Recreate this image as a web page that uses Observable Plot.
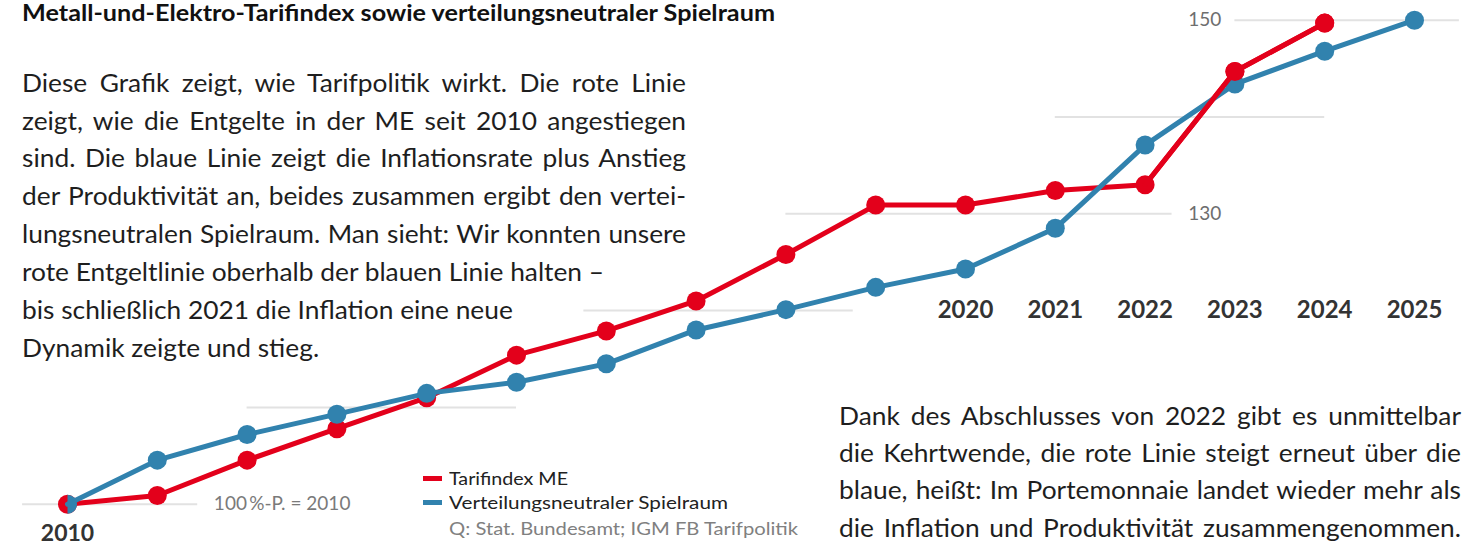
<!DOCTYPE html>
<html><head><meta charset="utf-8">
<script src="https://cdn.jsdelivr.net/npm/d3@7"></script>
<script src="https://cdn.jsdelivr.net/npm/@observablehq/plot@0.6"></script>
<style>
html,body{margin:0;padding:0;background:#fff}
#wrap{position:relative;width:1468px;height:546px;overflow:hidden;font-family:Lato,sans-serif;background:#fff}
#wrap svg{position:absolute;left:0;top:0}
.t{position:absolute;white-space:pre;transform-origin:0 0;line-height:1;margin:0;padding:0}
</style></head><body><div id="wrap"></div>
<script>
// ---- data ----
const years = [2010,2011,2012,2013,2014,2015,2016,2017,2018,2019,2020,2021,2022,2023,2024,2025];
const tarifindex = [100,100.9,104.55,107.8,111.0,115.4,117.9,121.0,125.8,130.9,130.9,132.4,133.0,144.7,149.7];
const spielraum  = [100,104.55,107.2,109.3,111.45,112.6,114.5,118.0,120.1,122.4,124.3,128.5,137.1,143.4,146.8,150.0];
const gridValues = [100,110,120,130,140,150];
const gridFrom   = [2009.5,2012,2015.75,2018,2021,2023];
const gridTo     = [2011.45,2015,2018.75,2022.3,2024,2025.5];
const axisYears  = [2020,2021,2022,2023,2024,2025];
const firstYear  = [2010];
const yTicks     = [130,150];
const RED = "#e3001b", BLUE = "#3182ae";

const red = tarifindex.map((value,i)=>({year:years[i], value}));
const blue = spielraum.map((value,i)=>({year:years[i], value}));
const grid = gridValues.map((v,i)=>({v, x1:gridFrom[i], x2:gridTo[i]}));

const halfRight = {draw(ctx, size){const r=Math.sqrt(size/Math.PI); ctx.moveTo(0,-r); ctx.arc(0,0,r,-Math.PI/2,Math.PI/2); ctx.closePath();}};

const chart = Plot.plot({
  width:1468, height:546,
  marginLeft:67, marginRight:54, marginTop:19.7, marginBottom:42.3,
  x:{domain:[2010,2025], axis:null},
  y:{domain:[100,150], axis:null},
  style:{fontFamily:"Lato, sans-serif", background:"transparent", overflow:"visible"},
  marks:[
    Plot.ruleY(grid, {y:"v", x1:"x1", x2:"x2", stroke:"#e2e2e2", strokeWidth:2}),
    Plot.line(red, {x:"year", y:"value", stroke:RED, strokeWidth:5}),
    Plot.dot(red, {x:"year", y:"value", r:9.5, fill:RED}),
    Plot.line(blue, {x:"year", y:"value", stroke:BLUE, strokeWidth:5}),
    Plot.dot(blue.filter(d=>d.year>2010), {x:"year", y:"value", r:9.5, fill:BLUE}),
    Plot.dot(blue.filter(d=>d.year===2010), {x:"year", y:"value", r:9.5, fill:BLUE, symbol:halfRight}),
    Plot.line(red.filter(d=>d.year>=2022), {x:"year", y:"value", stroke:RED, strokeWidth:5}),
    Plot.dot(red.filter(d=>d.year>=2023), {x:"year", y:"value", r:9.5, fill:RED}),
    Plot.text(axisYears, {x:d=>d, y:120, text:d=>String(d), fontSize:24, fontWeight:"bold", fill:"#333"}),
    Plot.text(firstYear, {x:d=>d, y:100, dy:29.5, text:d=>String(d), fontSize:23, fontWeight:"bold", fill:"#333"}),
    Plot.text(yTicks, {x:2022.48, y:d=>d, text:d=>String(d), textAnchor:"start", fontSize:19, fill:"#6e6e6e"}),
    Plot.text(["100\u2009%-P. = 2010"], {x:2011.63, y:100, text:d=>d, textAnchor:"start", fontSize:19, fill:"#7a7a7a"})
  ]
});
const wrap = document.getElementById("wrap");
wrap.appendChild(chart);

// ---- text overlays ----
function mk(text, x, baseline, fs, weight, color){
  const s = document.createElement("span");
  s.className = "t";
  s.style.fontSize = fs+"px"; s.style.fontWeight = weight; s.style.color = color;
  s.style.left = x+"px"; s.style.top = "0px";
  const mark = document.createElement("i");
  mark.style.cssText = "display:inline-block;width:0;height:0;vertical-align:baseline";
  s.appendChild(mark);
  s.appendChild(document.createTextNode(text));
  wrap.appendChild(s);
  const off = mark.getBoundingClientRect().top - s.getBoundingClientRect().top;
  s.style.top = (baseline - off)+"px";
  s._w = s.getBoundingClientRect().width;
  s._n = (text.match(/ /g)||[]).length;
  return s;
}
function justify(s, target, k){
  const extra = (target/k - s._w)/Math.max(1,s._n);
  s.style.wordSpacing = extra+"px";
  s.style.transform = `scaleX(${k})`;
}

const titleText = "Metall-und-Elektro-Tarifindex sowie verteilungsneutraler Spielraum";
const leftLines = [
  "Diese Grafik zeigt, wie Tarifpolitik wirkt. Die rote Linie",
  "zeigt, wie die Entgelte in der ME seit 2010 angestiegen",
  "sind. Die blaue Linie zeigt die Inflationsrate plus Anstieg",
  "der Produktivität an, beides zusammen ergibt den vertei-",
  "lungsneutralen Spielraum. Man sieht: Wir konnten unsere",
  "rote Entgeltlinie oberhalb der blauen Linie halten –",
  "bis schließlich 2021 die Inflation eine neue",
  "Dynamik zeigte und stieg."
];
const leftEnds = [686,686,686,686,686,598,515,323];
const rightLines = [
  "Dank des Abschlusses von 2022 gibt es unmittelbar",
  "die Kehrtwende, die rote Linie steigt erneut über die",
  "blaue, heißt: Im Portemonnaie landet wieder mehr als",
  "die Inflation und Produktivität zusammengenommen."
];
const legendLabels = ["Tarifindex ME","Verteilungsneutraler Spielraum"];
const legendEnds = [568,728];
const sourceText = "Q: Stat. Bundesamt; IGM FB Tarifpolitik";

// title
const t = mk(titleText, 22, 21, 22, 700, "#111");
t.style.transform = `scaleX(${(775-22)/t._w})`;

// left paragraph
const FS = 25.5;
const ls = leftLines.map((txt,i)=>mk(txt, 22, 91.7 + i*37.86, FS, 400, "#1e1e1e"));
let sumT=0, sumW=0;
[5,6,7].forEach(i=>{sumT += leftEnds[i]-22; sumW += ls[i]._w;});
const k = sumT/sumW;
ls.forEach((s,i)=>{ if(i<5) justify(s, leftEnds[i]-22, k); else s.style.transform=`scaleX(${k})`; });

// right paragraph
rightLines.forEach((txt,i)=>{ const s = mk(txt, 839, 425 + i*37.2, FS, 400, "#1e1e1e"); justify(s, 1461-839, k); });

// legend
const lcol = [RED, BLUE];
const legendBase = [485, 509];
legendLabels.forEach((txt,i)=>{
  const base = legendBase[i];
  const sw = document.createElement("div");
  sw.style.cssText = `position:absolute;left:423px;width:19px;height:5px;top:${base-9.5}px;background:${lcol[i]}`;
  wrap.appendChild(sw);
  const s = mk(txt, 449, base, 17.5, 400, "#222");
  s.style.transform = `scaleX(${(legendEnds[i]-449)/s._w})`;
});
const src = mk(sourceText, 449, 535, 17, 400, "#808080");
src.style.transform = `scaleX(${(798-449)/src._w})`;
</script></body></html>
